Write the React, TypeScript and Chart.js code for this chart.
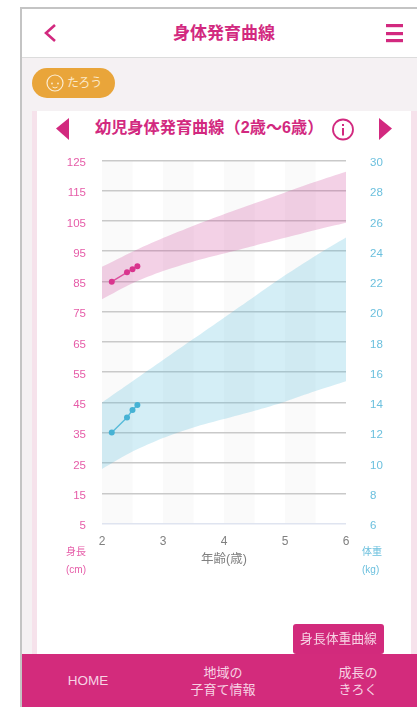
import React, { useEffect, useRef } from "react";
import { Chart, registerables } from "chart.js";

Chart.register(...registerables);

const ages = [2, 2.5, 3, 3.5, 4, 4.5, 5, 5.5, 6];
const heightUpper = [89.8, 94.8, 99.3, 103.4, 107.2, 110.8, 114.4, 117.9, 121.2];
const heightLower = [79.1, 84.4, 88.4, 91.6, 94.2, 96.8, 99.4, 102, 104.4];
const weightUpper = [14, 15.4, 16.8, 18.2, 19.6, 21, 22.4, 23.7, 24.9];
const weightLower = [9.6, 10.75, 11.65, 12.35, 12.9, 13.45, 14.05, 14.75, 15.4];
const childAges = [2.16, 2.41, 2.5, 2.58];
const childHeight = [84.9, 88, 89, 90];
const childWeight = [12.02, 13, 13.5, 13.83];
const shadedBandStarts = [2, 3, 4, 5];

const FONT = '"Liberation Sans", "Noto Sans CJK JP", sans-serif';
const PINK = "#d2297f";

const zip = (xs: number[], ys: number[]) => xs.map((x, i) => ({ x, y: ys[i] }));

const bandPlugin = {
  id: "ageBands",
  beforeDraw(chart: any) {
    ["y", "y2"].forEach((id) => {
      const scale = chart.scales[id];
      scale.getLabelItems(chart.chartArea).forEach((item: any) => {
        if (!item.options.__shifted) {
          item.options.translation[1] += 2.5;
          item.options.__shifted = true;
        }
      });
    });
  },
  beforeDatasetsDraw(chart: any) {
    const { ctx, scales, chartArea } = chart;
    ctx.save();
    ctx.globalCompositeOperation = "destination-over";
    ctx.fillStyle = "#fafafa";
    shadedBandStarts.forEach((s) => {
      const a = scales.x.getPixelForValue(s);
      const b = scales.x.getPixelForValue(s + 0.5);
      ctx.fillRect(a, chartArea.top, b - a, chartArea.bottom - chartArea.top);
    });
    ctx.restore();
  },
};

function Text({ x, y, w, size, color, children, align = "center", bold = false }: any) {
  return (
    <div
      style={{
        position: "absolute",
        left: x,
        top: y,
        width: w,
        fontSize: size,
        lineHeight: `${size + 4}px`,
        color,
        textAlign: align,
        fontWeight: bold ? 700 : 400,
        whiteSpace: "nowrap",
      }}
    >
      {children}
    </div>
  );
}

export default function App() {
  const ref = useRef<HTMLCanvasElement>(null);
  useEffect(() => {
    const line = (data: any[], yAxisID: string, color: string, fill: any) => ({
      data,
      yAxisID,
      parsing: false,
      borderWidth: 0,
      borderColor: "transparent",
      backgroundColor: color,
      pointRadius: 0,
      tension: 0.25,
      fill,
    });
    const person = (data: any[], yAxisID: string, lineColor: string, dot: string) => ({
      data,
      yAxisID,
      borderWidth: 1.4,
      borderColor: lineColor,
      backgroundColor: dot,
      pointBackgroundColor: dot,
      pointBorderWidth: 0,
      pointRadius: 3,
      tension: 0,
      fill: false,
    });
    const chart = new Chart(ref.current!, {
      type: "line",
      data: {
        datasets: [
          line(zip(ages, heightUpper), "y", "rgba(206,72,154,0.25)", "+1"),
          line(zip(ages, heightLower), "y", "rgba(206,72,154,0.25)", false),
          line(zip(ages, weightUpper), "y2", "rgba(75,185,218,0.24)", "+1"),
          line(zip(ages, weightLower), "y2", "rgba(75,185,218,0.24)", false),
          person(zip(childAges, childHeight), "y", "#e0559f", "#dc2f8a"),
          person(zip(childAges, childWeight), "y2", "#5dbcd9", "#45b0d3"),
        ] as any,
      },
      plugins: [bandPlugin],
      options: {
        animation: false,
        responsive: false,
        maintainAspectRatio: false,
        layout: { padding: { top: 160.3, left: 0, right: 0, bottom: 0 } },
        plugins: { legend: { display: false }, tooltip: { enabled: false } },
        scales: {
          x: {
            type: "linear",
            min: 2,
            max: 6,
            grid: { display: false },
            border: { display: false },
            ticks: { stepSize: 1, color: "#808080", font: { family: FONT, size: 12 }, padding: 3, maxRotation: 0 },
            title: {
              display: true,
              text: "年齢(歳)",
              color: "#808080",
              font: { family: FONT, size: 12.5 },
              padding: { top: 0, bottom: 33 },
            },
            afterFit: (s: any) => {
              s.height = 76.5;
            },
          },
          y: {
            position: "left",
            min: 5,
            max: 125,
            grid: {
              drawTicks: false,
              lineWidth: 1.4,
              color: (c: any) => (c.tick.value === 5 ? "#dfe4f0" : "#c9c9c9"),
            },
            border: { display: false },
            ticks: { stepSize: 10, color: "#e65ca8", font: { family: FONT, size: 11.5 }, padding: 16 },
            afterFit: (s: any) => {
              s.width = 102;
            },
          },
          y2: {
            position: "right",
            min: 6,
            max: 30,
            grid: { display: false },
            border: { display: false },
            ticks: { stepSize: 2, color: "#6cc0de", font: { family: FONT, size: 11.5 }, padding: 16 },
            afterFit: (s: any) => {
              s.width = 71;
            },
          },
        },
      },
    } as any);
    return () => chart.destroy();
  }, []);

  return (
    <div
      style={{
        position: "fixed",
        inset: 0,
        width: 417,
        height: 707,
        overflow: "hidden",
        background: "#fff",
        fontFamily: FONT,
        filter: "blur(0.5px)",
      }}
    >
      <style>{`body{margin:0}`}</style>
      {/* frame */}
      <div style={{ position: "absolute", left: 20, top: 7, width: 397, height: 700, borderLeft: "2px solid #c4c4c4", borderTop: "2px solid #c4c4c4", boxSizing: "border-box", background: "#f5f1f3" }} />
      {/* header */}
      <div style={{ position: "absolute", left: 22, top: 9, width: 395, height: 48, background: "#fff", borderBottom: "1px solid #dcdcdc" }} />
      <svg style={{ position: "absolute", left: 0, top: 0 }} width={417} height={140}>
        <path d="M55 25 L46 33 L55 41" fill="none" stroke={PINK} strokeWidth={2.6} />
        <rect x={386} y={24} width={17} height={3.2} fill={PINK} />
        <rect x={386} y={32} width={17} height={3.2} fill={PINK} />
        <rect x={386} y={39} width={17} height={3.2} fill={PINK} />
      </svg>
      <Text x={124} y={23} w={200} size={17} color={PINK} bold>身体発育曲線</Text>
      {/* chip */}
      <div style={{ position: "absolute", left: 32, top: 68, width: 83, height: 30, borderRadius: 15, background: "#e9a53a" }} />
      <svg style={{ position: "absolute", left: 44, top: 73 }} width={22} height={20}>
        <circle cx={11} cy={10} r={8} fill="none" stroke="#fbecd2" strokeWidth={1.2} />
        <circle cx={8} cy={10.5} r={0.9} fill="#fbecd2" />
        <circle cx={14} cy={10.5} r={0.9} fill="#fbecd2" />
        <path d="M8.5 14 Q11 16 13.5 14" fill="none" stroke="#fbecd2" />
      </svg>
      <Text x={67} y={75} w={40} size={12} color="#fbe8c8" align="left">たろう</Text>
      {/* card */}
      <div style={{ position: "absolute", left: 32, top: 111, width: 385, height: 543, background: "#f6e2eb" }} />
      <div style={{ position: "absolute", left: 37, top: 111, width: 374, height: 543, background: "#fff" }} />
      <svg style={{ position: "absolute", left: 0, top: 100 }} width={417} height={50}>
        <path d="M69 18 L56 28.5 L69 40 Z" fill={PINK} />
        <path d="M379 18 L392 28.5 L379 40 Z" fill={PINK} />
        <circle cx={343} cy={29.5} r={10} fill="none" stroke={PINK} strokeWidth={1.8} />
        <rect x={342} y={28} width={2} height={7.5} fill={PINK} />
        <rect x={342} y={24} width={2} height={2} fill={PINK} />
      </svg>
      <Text x={95} y={117} w={240} size={16.2} color={PINK} align="left" bold>幼児身体発育曲線（2歳〜6歳）</Text>
      {/* chart */}
      <canvas ref={ref} width={417} height={600} style={{ position: "absolute", left: 0, top: 0, width: 417, height: 600 }} />
      <Text x={50} y={545} w={36} size={10} color="#e65ca8" align="right">身長</Text>
      <Text x={50} y={563} w={36} size={10} color="#e65ca8" align="right">(cm)</Text>
      <Text x={362} y={545} w={36} size={10} color="#6cc0de" align="left">体重</Text>
      <Text x={362} y={563} w={36} size={10} color="#6cc0de" align="left">(kg)</Text>
      {/* button */}
      <div style={{ position: "absolute", left: 293, top: 624, width: 91, height: 30, borderRadius: 3, background: "#d22a7c", color: "#f7d3e4", fontSize: 12.8, lineHeight: "30px", textAlign: "center" }}>身長体重曲線</div>
      {/* nav */}
      <div style={{ position: "absolute", left: 22, top: 654, width: 395, height: 53, background: "#d32b7c" }} />
      <Text x={48} y={672} w={80} size={13.5} color="#f7d3e4">HOME</Text>
      <Text x={173} y={664} w={100} size={13} color="#f7d3e4">地域の</Text>
      <Text x={173} y={681} w={100} size={13} color="#f7d3e4">子育て情報</Text>
      <Text x={308} y={664} w={100} size={13} color="#f7d3e4">成長の</Text>
      <Text x={308} y={681} w={100} size={13} color="#f7d3e4">きろく</Text>
    </div>
  );
}
